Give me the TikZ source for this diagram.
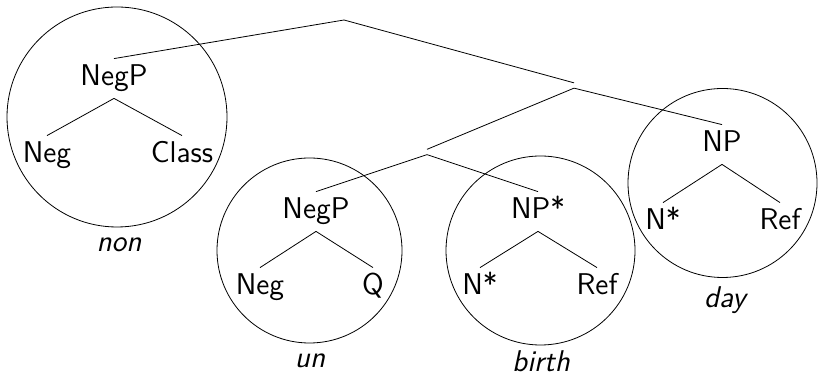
\documentclass[tikz,border=0pt]{standalone}
\begin{document}
\begin{tikzpicture}[x=0.5pt,y=-0.5pt,
    cat/.style={font=\fontsize{15}{18}\selectfont\sffamily,inner sep=2.5pt,text height=11pt,text depth=3.5pt,anchor=base},
    morph/.style={font=\fontsize{15}{18}\selectfont\sffamily\itshape,anchor=base},
    hub/.style={inner sep=0pt,minimum width=0pt,minimum height=2.25pt}]
  \useasboundingbox (0,0) rectangle (818,383);
  % circles round the morphemes
  \draw (117,117) circle (55pt);
  \draw (309.5,250.5) circle (46.25pt);
  \draw (540.5,250.5) circle (47.25pt);
  \draw (722.5,183) circle (47.25pt);
  % labels
  \node[cat] (negp1) at (114,86) {NegP};
  \node[cat] (neg1) at (47,163) {Neg};
  \node[cat] (class) at (182,163) {Class};
  \node[cat] (negp2) at (316,219) {NegP};
  \node[cat] (neg2) at (260,295) {Neg};
  \node[cat] (q) at (373,295) {Q};
  \node[cat] (npstar) at (538,219) {NP*};
  \node[cat] (nstar1) at (480,295) {N*};
  \node[cat] (ref1) at (597,295) {Ref};
  \node[cat] (np) at (722,152) {NP};
  \node[cat] (nstar2) at (663,230) {N*};
  \node[cat] (ref2) at (780,230) {Ref};
  \node[morph] (non) at (119,252) {non};
  \node[morph] (un) at (310,368) {un};
  \node[morph] (birth) at (541,372) {birth};
  \node[morph] (day) at (725,308) {day};
  % empty branching points
  \coordinate (top) at (344,20);
  \node[hub] (mid) at (574,85.5) {};
  \node[hub] (low) at (427,152) {};
  \begin{scope}[-]
    \draw (top) to (negp1.north);
    \draw (top) to (mid.north);
    \draw (mid.south) to (low.north);
    \draw (mid.south) to (np.north);
    \draw (low.south) to (negp2.north);
    \draw (low.south) to (npstar.north);
    \draw (negp1.south) to (neg1.north);
    \draw (negp1.south) to (class.north);
    \draw (negp2.south) to (neg2.north);
    \draw (negp2.south) to (q.north);
    \draw (npstar.south) to (nstar1.north);
    \draw (npstar.south) to (ref1.north);
    \draw (np.south) to (nstar2.north);
    \draw (np.south) to (ref2.north);
  \end{scope}
\end{tikzpicture}
\end{document}
